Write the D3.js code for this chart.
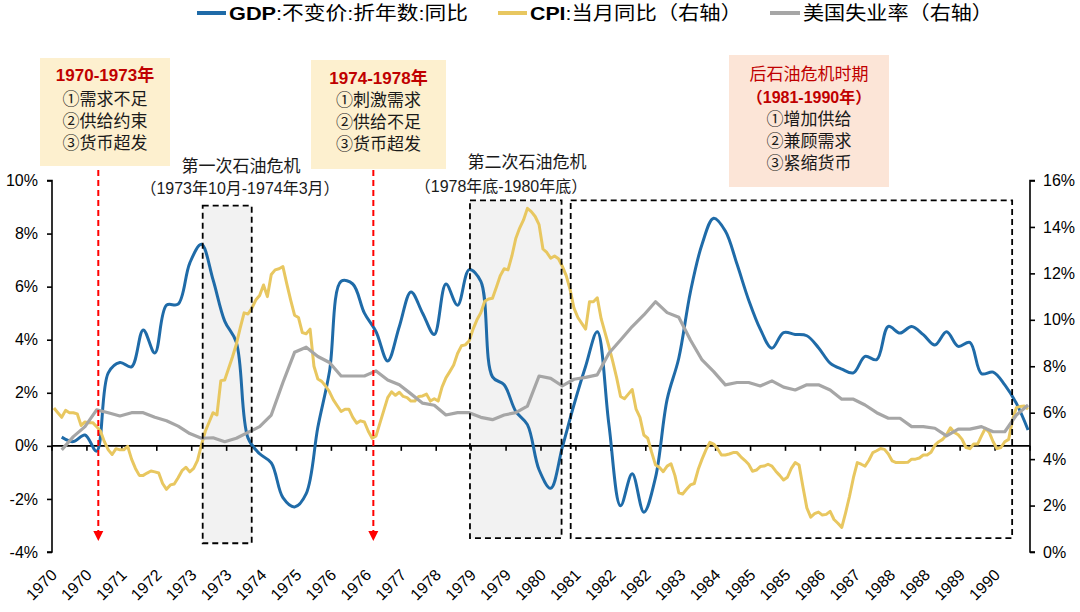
<!DOCTYPE html>
<html><head><meta charset="utf-8">
<script src="https://cdn.jsdelivr.net/npm/d3@7"></script>
<style>
html,body{margin:0;padding:0;background:#fff;}
svg{display:block;}
</style></head>
<body>
<svg id="c" width="1080" height="612"></svg>
<script>
// ---- data ----
const xLabels = ["1970","1970","1971","1972","1973","1973","1974","1975","1976","1976","1977","1978","1979","1979","1980","1981","1982","1982","1983","1984","1985","1985","1986","1987","1988","1988","1989","1990"];
const leftTicks = [-4,-2,0,2,4,6,8,10];
const rightTicks = [0,2,4,6,8,10,12,14,16];
// GDP real y/y (%), quarterly 1970Q1..1990Q4, left axis
const gdp = [
 0.33,0.16,0.41,-0.2,
 2.75,3.14,2.98,4.37,
 3.5,5.3,5.34,6.89,
 7.6,6.26,4.7,3.9,
 0.3,-0.3,-0.64,-1.95,
 -2.3,-1.8,0.7,2.8,
 6.2,6.1,5.0,4.3,
 3.2,4.5,5.8,5.0,
 4.2,6.1,5.3,6.64,
 6.2,2.6,2.3,1.3,
 0.8,-0.9,-1.6,-0.05,
 1.55,3.0,4.3,0.8,
 -2.26,-1.05,-2.5,-1.2,
 1.75,3.3,5.8,7.6,
 8.58,8.1,6.85,5.5,
 4.4,3.68,4.27,4.2,
 4.15,3.7,3.12,2.89,
 2.75,3.37,3.25,4.5,
 4.25,4.5,4.19,3.8,
 4.3,3.75,3.9,2.72,
 2.78,2.3,1.6,0.6];
// CPI y/y (%), monthly 1970-01..1990-12, right axis
const cpi = [
 6.2,6.0,5.8,6.1,6.0,6.0,5.95,5.45,5.6,5.57,5.57,5.4,
 5.2,4.75,4.4,4.2,4.45,4.4,4.4,4.55,4.0,3.6,3.3,3.3,
 3.4,3.49,3.45,3.4,2.95,2.7,2.89,2.93,3.2,3.5,3.65,3.45,
 3.6,3.95,4.6,5.2,5.6,6.0,5.9,7.38,7.41,7.9,8.4,8.95,
 9.65,10.3,10.25,10.5,10.85,11.05,11.5,11.0,11.95,12.15,12.2,12.29,
 11.55,10.85,10.2,10.1,9.45,9.4,9.6,8.0,7.45,7.35,7.15,6.9,
 6.55,6.3,6.05,6.15,6.15,5.8,5.55,5.65,5.6,5.2,4.9,5.0,
 5.55,6.1,6.65,6.9,6.75,6.88,6.7,6.65,6.5,6.5,6.7,6.72,
 6.8,6.5,6.6,6.5,7.1,7.5,7.77,8.05,8.55,8.88,8.92,9.1,
 9.6,10.0,10.3,10.8,10.9,10.93,11.4,11.9,12.2,12.15,12.75,13.5,
 13.95,14.3,14.8,14.66,14.45,14.1,13.05,12.9,12.65,12.75,12.63,12.3,
 11.9,11.3,10.5,10.1,9.85,9.6,10.78,10.78,10.95,10.05,9.45,8.85,
 8.2,7.5,6.7,6.6,6.8,7.0,6.15,5.8,5.04,4.9,4.3,3.75,
 3.65,3.46,3.7,3.8,3.3,2.55,2.5,2.7,2.89,2.95,3.55,4.0,
 4.4,4.72,4.65,4.45,4.18,4.18,4.22,4.28,4.28,4.1,3.95,3.78,
 3.48,3.53,3.68,3.7,3.78,3.7,3.48,3.3,3.1,3.22,3.6,3.85,
 3.75,2.8,1.9,1.5,1.65,1.72,1.59,1.62,1.75,1.4,1.24,1.06,
 1.7,2.4,3.2,3.85,3.78,3.7,3.95,4.28,4.36,4.46,4.42,4.22,
 3.92,3.85,3.85,3.85,3.86,4.0,4.0,4.05,4.18,4.18,4.3,4.6,
 4.75,4.85,5.05,5.35,5.15,5.05,4.85,4.5,4.45,4.65,4.65,5.0,
 5.33,5.15,4.75,4.45,4.5,4.75,4.85,5.7,6.22,6.27,6.29,6.15];
// US unemployment rate (%), quarterly, right axis
const unemp = [
 4.4,4.97,5.4,6.12,
 6.0,5.86,6.0,6.0,
 5.8,5.65,5.42,5.1,
 4.9,4.92,4.75,4.9,
 5.15,5.4,5.9,7.3,
 8.6,8.82,8.42,8.16,
 7.58,7.58,7.58,7.8,
 7.41,7.2,6.81,6.41,
 6.32,5.9,6.0,6.0,
 5.8,5.7,5.9,6.0,
 6.28,7.58,7.48,7.15,
 7.44,7.52,7.63,8.56,
 9.13,9.71,10.21,10.78,
 10.31,10.11,9.13,8.27,
 7.77,7.2,7.3,7.3,
 7.15,7.37,7.1,6.98,
 7.2,7.2,6.98,6.58,
 6.58,6.33,6.0,5.76,
 5.76,5.4,5.4,5.33,
 5.0,5.29,5.29,5.4,
 5.18,5.18,5.9,6.33];
const seriesNames = ["GDP:不变价:折年数:同比","CPI:当月同比（右轴）","美国失业率（右轴）"];
const colors = ["#1F6BA8","#E8C760","#A6A6A6"];

// ---- scales ----
const svg = d3.select("#c");
const nMonths = cpi.length;
const x = d3.scaleLinear().domain([0, nMonths]).range([52, 1030]);
const yL = d3.scaleLinear().domain([-4, 10]).range([552, 180.5]);
const yR = d3.scaleLinear().domain([0, 16]).range([552, 180.5]);
const mc = m => x(m + 0.5);      // month centre
const qc = q => x(3*q + 2.5);    // quarter -> last month centre

const FONT = "'Liberation Sans', Arial, 'Noto Sans CJK SC', sans-serif";
const CJK = "'Liberation Sans', 'Noto Sans CJK SC', sans-serif";

// ---- shaded crisis boxes (fills) ----
const boxes = [
  {m0:38.83, m1:51.46, top:9.05, bot:-3.67, fill:"#F2F2F2"},
  {m0:107.7, m1:131.3, top:9.25, bot:-3.48, fill:"#F2F2F2"},
  {m0:133.65, m1:247.4, top:9.25, bot:-3.48, fill:"none"}
];
svg.append("g").selectAll("rect").data(boxes).join("rect")
  .attr("x", d=>x(d.m0)).attr("y", d=>yL(d.top))
  .attr("width", d=>x(d.m1)-x(d.m0)).attr("height", d=>yL(d.bot)-yL(d.top))
  .attr("fill", d=>d.fill).attr("stroke","none");

// ---- axes ----
const axL = svg.append("g").attr("transform","translate(52,0)")
  .call(d3.axisLeft(yL).tickValues(leftTicks).tickSize(5).tickFormat(d=>d+"%"));
const axR = svg.append("g").attr("transform","translate(1030,0)")
  .call(d3.axisRight(yR).tickValues(rightTicks).tickSize(5).tickFormat(d=>d+"%"));
[axL, axR].forEach(a=>{
  a.select(".domain").attr("stroke","#000").attr("stroke-width",1.6);
  a.selectAll(".tick line").attr("stroke","#000").attr("stroke-width",1.6);
  a.selectAll("text").attr("font-family",FONT).attr("font-size",16).attr("fill","#000");
});
axL.select(".domain").attr("d","M-5,180.5H0V552H-5");
axR.select(".domain").attr("d","M5,180.5H0V552H5");
axL.selectAll(".tick text").attr("x",-14);
axR.selectAll(".tick text").attr("x",13);

// zero line with category ticks
const zeroY = yL(0);
const xt = d3.range(0, nMonths+1, 9);
const gx = svg.append("g");
gx.append("line").attr("x1",x(0)).attr("x2",x(nMonths)).attr("y1",zeroY).attr("y2",zeroY)
  .attr("stroke","#000").attr("stroke-width",1.6);
gx.selectAll("line.t").data(xt).join("line").attr("class","t")
  .attr("x1",d=>x(d)).attr("x2",d=>x(d)).attr("y1",zeroY).attr("y2",zeroY+5)
  .attr("stroke","#000").attr("stroke-width",1.6);
// x labels
svg.append("g").selectAll("text").data(xLabels).join("text")
  .attr("transform",(d,i)=>`translate(${mc(9*i)+4},576) rotate(-45)`)
  .attr("text-anchor","end").attr("font-family",FONT).attr("font-size",16).attr("fill","#000")
  .text(d=>d);

// ---- lines ----
const lineGdp = d3.line().x((d,i)=>qc(i)).y(d=>yL(d)).curve(d3.curveCatmullRom.alpha(0.5));
const lineCpi = d3.line().x((d,i)=>mc(i)).y(d=>yR(d));
const lineUn = d3.line().x((d,i)=>qc(i)).y(d=>yR(d));
svg.append("path").attr("d",lineGdp(gdp)).attr("fill","none").attr("stroke",colors[0]).attr("stroke-width",3).attr("stroke-linejoin","round");
svg.append("path").attr("d",lineCpi(cpi)).attr("fill","none").attr("stroke",colors[1]).attr("stroke-width",3).attr("stroke-linejoin","round");
svg.append("path").attr("d",lineUn(unemp)).attr("fill","none").attr("stroke",colors[2]).attr("stroke-width",3.2).attr("stroke-linejoin","round");

// dashed outlines
svg.append("g").selectAll("rect").data(boxes).join("rect")
  .attr("x", d=>x(d.m0)).attr("y", d=>yL(d.top))
  .attr("width", d=>x(d.m1)-x(d.m0)).attr("height", d=>yL(d.bot)-yL(d.top))
  .attr("fill","none").attr("stroke","#000").attr("stroke-width",1.8).attr("stroke-dasharray","6,4");

// red dashed arrows
const arrows = [11.93, 82.8];
const ga = svg.append("g");
arrows.forEach(m=>{
  const ax = x(m);
  ga.append("line").attr("x1",ax).attr("x2",ax).attr("y1",170).attr("y2",532)
    .attr("stroke","#FF0000").attr("stroke-width",2).attr("stroke-dasharray","6,4");
  ga.append("path").attr("d",`M${ax-5},531L${ax+5},531L${ax},541Z`).attr("fill","#FF0000");
});

// ---- legend ----
const leg = svg.append("g");
const legItems = [
  {x1:197, x2:226, tx:229, len:239, bold:"GDP", rest:":不变价:折年数:同比"},
  {x1:498, x2:527, tx:530, len:212, bold:"CPI", rest:":当月同比（右轴）"},
  {x1:770, x2:800, tx:803, len:190, bold:"", rest:"美国失业率（右轴）"}
];
legItems.forEach((d,i)=>{
  leg.append("line").attr("x1",d.x1).attr("x2",d.x2).attr("y1",13).attr("y2",13)
    .attr("stroke",colors[i]).attr("stroke-width",4);
  const t = leg.append("text").attr("x",d.tx).attr("y",20).attr("font-family",CJK)
    .attr("font-size",19).attr("fill","#000")
    .attr("textLength",d.len).attr("lengthAdjust","spacingAndGlyphs");
  if(d.bold) t.append("tspan").attr("font-weight","bold").text(d.bold);
  t.append("tspan").text(d.rest);
});

// ---- annotation boxes ----
const ann = svg.append("g");
function note(x0,x1,y0,y1,fill,lines){
  ann.append("rect").attr("x",x0).attr("y",y0).attr("width",x1-x0).attr("height",y1-y0).attr("fill",fill);
  lines.forEach(l=>{
    ann.append("text").attr("x",(x0+x1)/2).attr("y",l.y).attr("text-anchor","middle")
      .attr("dominant-baseline","central")
      .attr("font-family",CJK).attr("font-size",l.size||17)
      .attr("font-weight",l.bold?"bold":"normal").attr("fill",l.color||"#1a1a1a").text(l.t);
  });
}
note(40,170,58,166,"#FDF0CF",[
  {t:"1970-1973年",y:75,bold:true,color:"#C00000"},
  {t:"①需求不足",y:99},{t:"②供给约束",y:121},{t:"③货币超发",y:143}]);
note(311,446,60,169,"#FDF0CF",[
  {t:"1974-1978年",y:78,bold:true,color:"#C00000"},
  {t:"①刺激需求",y:100},{t:"②供给不足",y:122},{t:"③货币超发",y:144}]);
note(729,889,55,187,"#FCE5D7",[
  {t:"后石油危机时期",y:74,color:"#C00000"},
  {t:"（1981-1990年）",y:97,bold:true,color:"#C00000",size:16},
  {t:"①增加供给",y:119},{t:"②兼顾需求",y:141},{t:"③紧缩货币",y:163}]);

const labels = [
  {t:"第一次石油危机",x:241,y:166,size:17},
  {t:"（1973年10月-1974年3月）",x:240,y:188,size:16},
  {t:"第二次石油危机",x:527,y:162,size:17},
  {t:"（1978年底-1980年底）",x:501,y:186,size:16}
];
ann.selectAll("text.l").data(labels).join("text").attr("class","l")
  .attr("x",d=>d.x).attr("y",d=>d.y).attr("text-anchor","middle").attr("dominant-baseline","central")
  .attr("font-family",CJK).attr("font-size",d=>d.size).attr("fill","#1a1a1a").text(d=>d.t);
</script>
</body></html>
